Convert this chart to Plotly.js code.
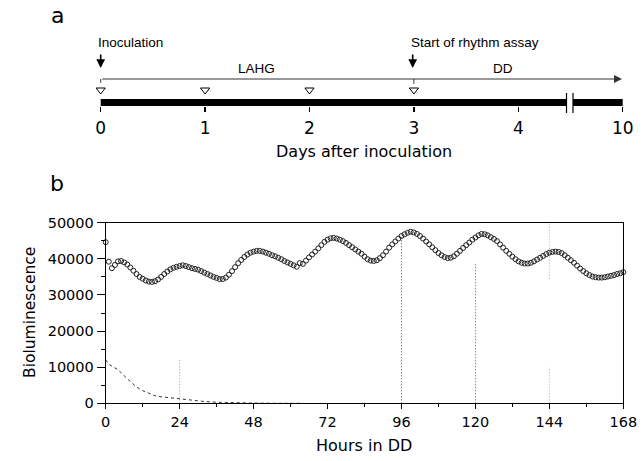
<!DOCTYPE html>
<html>
<head>
<meta charset="utf-8">
<script src="https://cdn.plot.ly/plotly-3.0.1.min.js"></script>
<style>html,body{margin:0;padding:0;background:#fff}#chart{width:644px;height:461px}</style>
</head>
<body>
<div id="chart"></div>
<script>
// ---------- Panel b data ----------
const hours = [];
for (let h = 0; h <= 168; h++) hours.push(h);
const bioluminescence = [
44600,39200,37400,38300,39300,39400,39000,38400,37600,36700,
35800,35000,34500,34000,33700,33600,33800,34300,35000,35800,
36500,37100,37500,37800,38000,38200,38000,37700,37400,37200,
37000,36600,36200,35800,35400,35000,34700,34400,34400,34800,
35600,36600,37700,38800,39700,40500,41200,41700,42000,42200,
42200,42000,41700,41400,41000,40700,40300,39900,39400,39000,
38600,38200,37800,38800,38600,39500,40400,41200,42000,42900,
43800,44700,45300,45700,45800,45600,45300,44900,44400,43800,
43200,42600,42000,41400,40600,39900,39500,39400,39600,40200,
41000,42000,43100,44000,44800,45600,46300,46800,47200,47500,
47300,46900,46300,45600,44800,44000,43200,42400,41600,41000,
40500,40200,40300,40700,41400,42200,43000,43800,44500,45300,
45900,46500,46900,46800,46500,46000,45500,44900,44000,43100,
42200,41400,40600,39900,39300,38900,38700,38700,38900,39300,
39800,40300,40800,41300,41700,41900,42000,41900,41600,41000,
40300,39600,38900,38100,37300,36600,36000,35500,35100,34900,
34800,34800,34900,35100,35300,35500,35800,36000,36300
];
const controlHours = [0,1,2,4,6,8,10,12,14,16,18,20,22,24,28,32,36,40,48,56,64];
const controlSignal = [12000,10800,10300,9300,7600,6000,4500,3500,2700,2100,1800,1600,1400,1200,800,500,300,150,50,0,0];
// vertical marker segments (hour, from, to)
const markHours = [24, 96, 120, 144, 144];
const markFrom  = [0, 0, 0, 0, 34500];
const markTo    = [12000, 46500, 39000, 10000, 50000];
const markColor = ['#999', '#444', '#555', '#aaa', '#aaa'];
const hourTicks = [0,24,48,72,96,120,144,168];

// ---------- Panel a data ----------
const dayPositions = [0,1,2,3,4,5];
const dayLabels = ['0','1','2','3','4','10'];
const sampleDays = [0,1,2,3];

// ---------- layout helpers (pixel -> paper) ----------
const M = {l:95, r:15, t:20, b:41};
const PW = 644 - M.l - M.r, PH = 461 - M.t - M.b;
const px = x => (x - M.l) / PW;
const py = y => (461 - M.b - y) / PH;
const dx = x => (x - 100.7) / 104.4;   // pixel -> day coordinate on x2

const traces = [];
for (let i = 0; i < markHours.length; i++) {
  traces.push({x:[markHours[i], markHours[i]], y:[markFrom[i], markTo[i]], mode:'lines',
    line:{color:markColor[i], width:1, dash:'1px,2px'}, xaxis:'x', yaxis:'y', hoverinfo:'skip', showlegend:false});
}
traces.push({x:controlHours, y:controlSignal, mode:'lines', line:{color:'#333', width:1, dash:'3px,3px'},
  xaxis:'x', yaxis:'y', showlegend:false});
traces.push({x:hours, y:bioluminescence, mode:'markers',
  marker:{symbol:'circle-open', size:5, color:'#222', line:{width:1, color:'#222'}},
  xaxis:'x', yaxis:'y', showlegend:false, cliponaxis:false});
traces.push({x:sampleDays, y:sampleDays.map(()=>90), mode:'markers',
  marker:{symbol:'triangle-down-open', size:8, color:'#000', line:{width:1, color:'#000'}},
  xaxis:'x2', yaxis:'y2', showlegend:false, cliponaxis:false});

const fontA = 'DejaVu Sans, sans-serif';
const fontH = 'Liberation Sans, Arial, sans-serif';

const shapes = [
  {type:'rect', xref:'x2', yref:'y2', x0:0, x1:5, y0:99, y1:106, fillcolor:'#000', line:{width:0}},
  {type:'rect', xref:'paper', yref:'paper', x0:px(566.5), x1:px(573), y0:py(107.5), y1:py(98), fillcolor:'#fff', line:{width:0}},
  {type:'line', xref:'paper', yref:'paper', x0:px(566.5), x1:px(566.5), y0:py(113), y1:py(93), line:{color:'#000', width:1.2}},
  {type:'line', xref:'paper', yref:'paper', x0:px(573), x1:px(573), y0:py(113), y1:py(93), line:{color:'#000', width:1.2}},
  {type:'line', xref:'x2', yref:'y2', x0:0, x1:0, y0:79, y1:83, line:{color:'#444', width:1}},
  {type:'line', xref:'x2', yref:'y2', x0:3, x1:3, y0:79, y1:84, line:{color:'#444', width:1}},
];

const annotations = [
  {xref:'x2', yref:'y2', axref:'x2', ayref:'y2', x:dx(622), y:79, ax:0, ay:79, showarrow:true,
   arrowhead:2, arrowsize:1.6, arrowwidth:1, arrowcolor:'#333', text:''},
  {xref:'x2', yref:'y2', axref:'x2', ayref:'y2', x:0, y:68, ax:0, ay:53, showarrow:true,
   arrowhead:2, arrowsize:1.1, arrowwidth:1.6, arrowcolor:'#000', text:''},
  {xref:'x2', yref:'y2', axref:'x2', ayref:'y2', x:dx(412.7), y:68, ax:dx(412.7), ay:53, showarrow:true,
   arrowhead:2, arrowsize:1.1, arrowwidth:1.6, arrowcolor:'#000', text:''},
  {xref:'paper', yref:'paper', x:px(96), y:py(42), xanchor:'left', yanchor:'middle', showarrow:false,
   text:'Inoculation', font:{family:fontH, size:13.5, color:'#000'}},
  {xref:'paper', yref:'paper', x:px(408.5), y:py(42), xanchor:'left', yanchor:'middle', showarrow:false,
   text:'Start of rhythm assay', font:{family:fontH, size:13.5, color:'#000'}},
  {xref:'paper', yref:'paper', x:px(256), y:py(68), xanchor:'center', yanchor:'middle', showarrow:false,
   text:'LAHG', font:{family:fontH, size:13.5, color:'#000'}},
  {xref:'paper', yref:'paper', x:px(503), y:py(68), xanchor:'center', yanchor:'middle', showarrow:false,
   text:'DD', font:{family:fontH, size:13.5, color:'#000'}},
  {xref:'paper', yref:'paper', x:px(364), y:py(152), xanchor:'center', yanchor:'middle', showarrow:false,
   text:'Days after inoculation', font:{family:fontA, size:16, color:'#000'}},
  {xref:'paper', yref:'paper', x:px(57), y:py(15), xanchor:'center', yanchor:'middle', showarrow:false,
   text:'a', font:{family:fontA, size:22, color:'#000'}},
  {xref:'paper', yref:'paper', x:px(57), y:py(183), xanchor:'center', yanchor:'middle', showarrow:false,
   text:'b', font:{family:fontA, size:22, color:'#000'}},
  {xref:'paper', yref:'paper', x:px(30), y:py(313), xanchor:'center', yanchor:'middle', showarrow:false,
   textangle:-90, text:'Bioluminescence', font:{family:fontA, size:15.5, color:'#000'}},
  {xref:'paper', yref:'paper', x:px(364), y:py(445), xanchor:'center', yanchor:'middle', showarrow:false,
   text:'Hours in DD', font:{family:fontA, size:16, color:'#000'}},
];

const layout = {
  width:644, height:461, margin:M, paper_bgcolor:'#fff', plot_bgcolor:'rgba(0,0,0,0)',
  showlegend:false,
  font:{family:fontA, color:'#000'},
  xaxis:{domain:[px(105.7), px(623.3)], anchor:'y', range:[0,168], tickvals:hourTicks,
    ticks:'outside', ticklen:5, tickcolor:'#000', showline:true, linecolor:'#000', linewidth:1,
    mirror:true, showgrid:false, zeroline:false, tickfont:{family:fontA, size:14.5},
    minor:{dtick:12, tick0:0, ticks:'outside', ticklen:3, tickcolor:'#000', showgrid:false}},
  yaxis:{domain:[py(403.3), py(222.7)], anchor:'x', range:[0,50000], dtick:10000, tick0:0, tickformat:'d',
    ticks:'outside', ticklen:8, tickcolor:'#000', showline:true, linecolor:'#000', linewidth:1,
    mirror:true, showgrid:false, zeroline:false, tickfont:{family:fontA, size:14.5},
    minor:{dtick:5000, tick0:0, ticks:'outside', ticklen:4, tickcolor:'#000', showgrid:false}},
  xaxis2:{domain:[0,1], anchor:'y2', range:[dx(M.l), dx(644-M.r)], tickvals:dayPositions, ticktext:dayLabels,
    ticks:'outside', ticklen:5, tickwidth:1.5, tickcolor:'#000', showline:false, showgrid:false, zeroline:false,
    tickfont:{family:fontA, size:17}, ticklabelstandoff:2},
  yaxis2:{domain:[py(106), 1], anchor:'x2', range:[106, 20], visible:false, showgrid:false, zeroline:false},
  shapes:shapes, annotations:annotations
};

Plotly.newPlot('chart', traces, layout, {staticPlot:true, displayModeBar:false});
</script>
</body>
</html>
